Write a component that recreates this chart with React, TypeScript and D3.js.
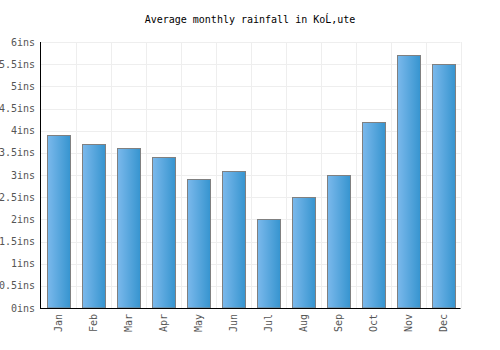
import React from "react";
import * as d3 from "d3";

const months = ["Jan","Feb","Mar","Apr","May","Jun","Jul","Aug","Sep","Oct","Nov","Dec"];
const rainfall = [3.9, 3.7, 3.6, 3.4, 2.9, 3.1, 2.0, 2.5, 3.0, 4.2, 5.7, 5.5];
const yTicks = [0, 0.5, 1, 1.5, 2, 2.5, 3, 3.5, 4, 4.5, 5, 5.5, 6];
const title = "Average monthly rainfall in KoĹ‚ute";

export default function App() {
  const W = 500, H = 350;
  const left = 40.5, right = 460.5, top = 42, bottom = 308;
  const x = d3.scaleBand<string>().domain(months).range([left, right]).paddingInner(0).paddingOuter(0);
  const y = d3.scaleLinear().domain([0, 6]).range([bottom, top]);
  const bw = x.bandwidth();
  const barW = 23;
  const font = "'DejaVu Sans Mono', monospace";
  return (
    <svg width={W} height={H} style={{ position: "absolute", left: 0, top: 0, background: "#fff" }}>
      <defs>
        <linearGradient id="barGrad" x1="0" x2="1" y1="0" y2="0">
          <stop offset="0%" stopColor="#7bb9ec" />
          <stop offset="100%" stopColor="#3694cf" />
        </linearGradient>
      </defs>
      <text x={250} y={23} textAnchor="middle" fontFamily={font} fontSize={10} fill="#000">{title}</text>
      {yTicks.map((t) => (
        <line key={"h" + t} x1={left} x2={right} y1={Math.round(y(t)) + 0.5} y2={Math.round(y(t)) + 0.5} stroke="#eeeeee" strokeWidth={1} />
      ))}
      {months.map((m) => (
        <line key={"v" + m} x1={Math.round(x(m)! + bw) + 0.5} x2={Math.round(x(m)! + bw) + 0.5} y1={top} y2={bottom} stroke="#eeeeee" strokeWidth={1} />
      ))}
      {months.map((m, i) => {
        const cx = x(m)! + bw / 2;
        const x0 = Math.round(cx - barW / 2) + 0.5;
        const yt = Math.round(y(rainfall[i])) + 0.5;
        return (
          <rect key={"b" + m} x={x0} y={yt} width={barW} height={bottom - yt} fill="url(#barGrad)" stroke="#808080" strokeWidth={1} />
        );
      })}
      <line x1={left} x2={left} y1={top} y2={bottom + 1} stroke="#000" strokeWidth={1} />
      <line x1={left} x2={right} y1={bottom + 0.5} y2={bottom + 0.5} stroke="#000" strokeWidth={1} />
      {yTicks.map((t) => (
        <text key={"yl" + t} x={35} y={y(t)} dy="0.35em" textAnchor="end" fontFamily={font} fontSize={10} fill="#555">
          {`${t}ins`}
        </text>
      ))}
      {months.map((m) => {
        const cx = x(m)! + bw / 2;
        return (
          <text key={"xl" + m} transform={`translate(${cx},314) rotate(-90)`} textAnchor="end" dy="0.35em" fontFamily={font} fontSize={10} fill="#555">
            {m}
          </text>
        );
      })}
    </svg>
  );
}
